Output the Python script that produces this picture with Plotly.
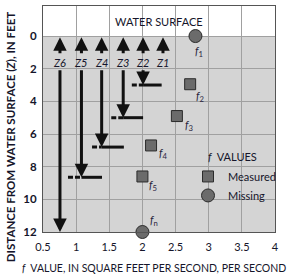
import plotly.graph_objects as go

# ---- data ----
z_labels = ["Z1", "Z2", "Z3", "Z4", "Z5", "Z6"]
z_x = [2.31, 2.01, 1.71, 1.385, 1.08, 0.756]
z_depth = [None, 3.0, 5.0, 6.8, 8.65, 12.0]
seg_left = [None, 1.84, 1.53, 1.24, 0.877, None]
seg_right = [None, 2.29, 2.01, 1.72, 1.39, None]

f_names = ["1", "2", "3", "4", "5", "n"]
f_x = [2.8, 2.72, 2.52, 2.13, 2.0, 2.0]
f_z = [0.0, 2.95, 4.9, 6.7, 8.6, 12.0]
f_status = ["Missing", "Measured", "Measured", "Measured", "Measured", "Missing"]
f_label_shift = [(4, -15), (10, -12), (13, -9), (12, -8), (11, -9), (12, 12)]

x_ticks = [0.5, 1, 1.5, 2, 2.5, 3, 3.5, 4]
x_ticktext = ["0.5", "1", "1.5", "2", "2.5", "3", "3.5", "4"]
y_ticks = [0, 2, 4, 6, 8, 10, 12]

FONT = "Lato"
INK = "#15152a"

fig = go.Figure()

# horizontal depth bars (dashed left part, solid right part)
for zx, d, l, r in zip(z_x, z_depth, seg_left, seg_right):
    if l is None:
        continue
    fig.add_trace(go.Scatter(x=[l, zx], y=[d, d], mode="lines",
                             line=dict(color="#111", width=3, dash="5px,2px"),
                             showlegend=False, hoverinfo="skip"))
    fig.add_trace(go.Scatter(x=[zx, r], y=[d, d], mode="lines",
                             line=dict(color="#111", width=3),
                             showlegend=False, hoverinfo="skip"))

# f markers
for status, sym, size in [("Measured", "square", 11), ("Missing", "circle", 13)]:
    xs = [x for x, s in zip(f_x, f_status) if s == status]
    ys = [y for y, s in zip(f_z, f_status) if s == status]
    fig.add_trace(go.Scatter(x=xs, y=ys, mode="markers", name=status,
                             marker=dict(symbol=sym, size=size, color="#6b6b6b",
                                         line=dict(color="#2b2b2b", width=1)),
                             cliponaxis=False))

ann = []
# arrows and Z labels
for lab, zx, d in zip(z_labels, z_x, z_depth):
    ann.append(dict(x=zx, y=0.08, ax=zx, ay=1.15, xref="x", yref="y", axref="x", ayref="y",
                    text="", showarrow=True, arrowhead=2, arrowsize=0.9, arrowwidth=3,
                    arrowcolor="#111", standoff=0))
    ann.append(dict(x=zx, y=1.6, xref="x", yref="y", text="<i>" + lab + "</i>",
                    showarrow=False, font=dict(family=FONT, size=11, color=INK)))
    if d is not None:
        ann.append(dict(x=zx, y=d, ax=zx, ay=2.0, xref="x", yref="y", axref="x", ayref="y",
                        text="", showarrow=True, arrowhead=2, arrowsize=0.9, arrowwidth=3,
                        arrowcolor="#111", standoff=0))

# f labels
for n, x, y, (dx, dy) in zip(f_names, f_x, f_z, f_label_shift):
    ann.append(dict(x=x, y=y, xref="x", yref="y", xshift=dx, yshift=dy,
                    text="<i>f</i><sub>" + n + "</sub>", showarrow=False,
                    font=dict(family=FONT, size=11, color="#2a2540")))

ann.append(dict(x=0.5, y=-0.88, xref="paper", yref="y", text="WATER SURFACE",
                showarrow=False, font=dict(family=FONT, size=11, color=INK)))
ann.append(dict(x=3.36, y=7.35, xref="x", yref="y", text="<i>f</i>  VALUES",
                showarrow=False, font=dict(family=FONT, size=11, color=INK)))
# axis titles (centred on the figure as in the reference)
ann.append(dict(x=0.4806, y=-0.159, xref="paper", yref="paper", yanchor="middle",
                text="<i>f</i>  VALUE, IN SQUARE FEET PER SECOND, PER SECOND",
                showarrow=False, font=dict(family=FONT, size=10.5, color=INK)))
ann.append(dict(x=-0.142, y=0.42, xref="paper", yref="paper", textangle=-90,
                xanchor="center", yanchor="middle",
                text="DISTANCE FROM WATER SURFACE (<i>Z</i>), IN FEET",
                showarrow=False, font=dict(family=FONT, size=11.5, color=INK, weight="bold")))

shapes = [dict(type="rect", xref="paper", yref="y", x0=0, x1=1, y0=-1.9, y1=0,
               fillcolor="white", line=dict(width=0), layer="between")]

fig.update_layout(
    width=290, height=274,
    margin=dict(l=43, r=15, t=6, b=42, autoexpand=False),
    paper_bgcolor="white", plot_bgcolor="#d4d4d4",
    font=dict(family=FONT, size=11, color=INK),
    annotations=ann, shapes=shapes,
    showlegend=True,
    legend=dict(x=0.625, y=0.31, xanchor="left", yanchor="top",
                bgcolor="rgba(0,0,0,0)", borderwidth=0,
                font=dict(family=FONT, size=11, color=INK),
                itemwidth=30, tracegroupgap=0),
    xaxis=dict(range=[0.5, 4], tickvals=x_ticks, ticktext=x_ticktext,
               showgrid=True, gridcolor="#a0a0a0", gridwidth=1, zeroline=False,
               showline=True, mirror=True, linecolor="#555", linewidth=1,
               ticks="", ticklabelstandoff=5,
               tickfont=dict(family=FONT, size=11, color=INK),
               automargin=False),
    yaxis=dict(range=[12, -1.84], tickvals=y_ticks,
               showgrid=True, gridcolor="#a0a0a0", gridwidth=1, zeroline=False,
               showline=True, mirror=True, linecolor="#555", linewidth=1,
               ticks="", ticklabelstandoff=3,
               tickfont=dict(family=FONT, size=11.5, color=INK, weight="bold"),
               automargin=False),
)

# remove the browser's default 8px body margin so the figure sits at the page origin
fig.write_html("out.html", config={"displayModeBar": False},
               post_script="document.body.style.margin='0';")
